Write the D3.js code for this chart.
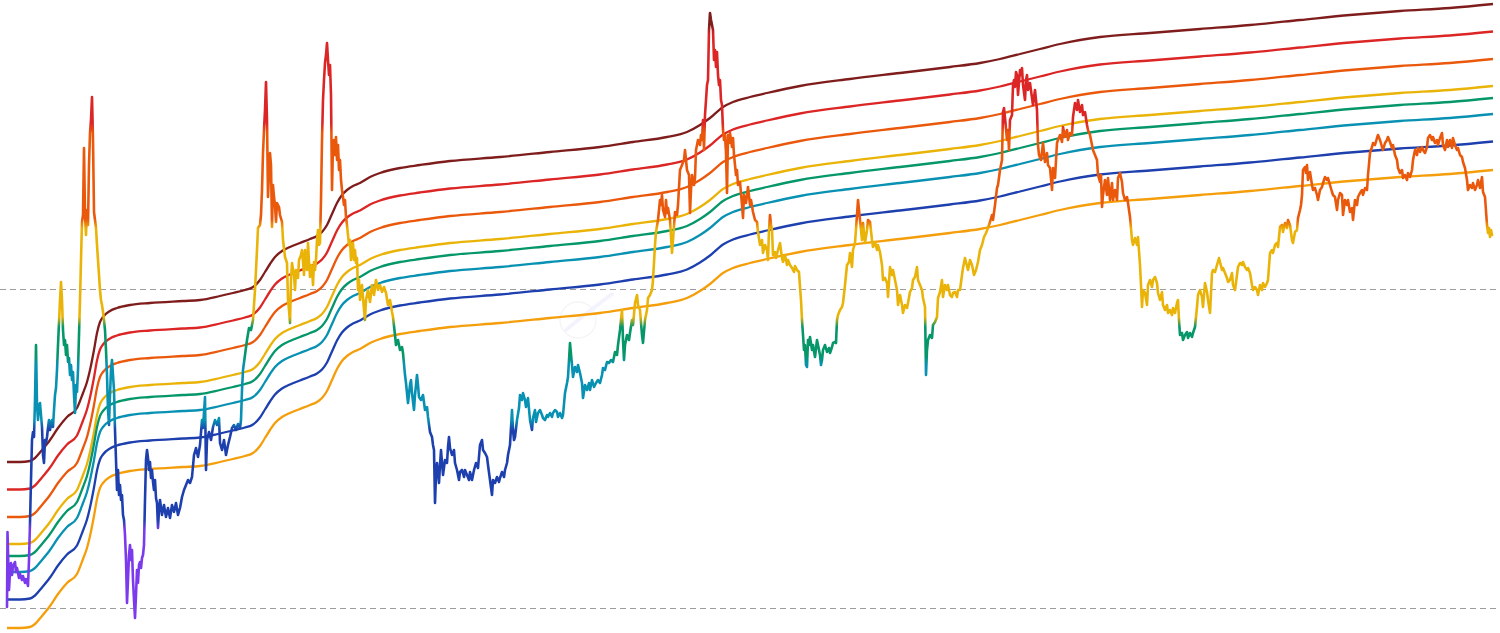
<!DOCTYPE html>
<html>
<head>
<meta charset="utf-8">
<script src="https://cdn.jsdelivr.net/npm/d3@7"></script>
<style>
  html, body { margin: 0; padding: 0; background: #ffffff; }
  svg { display: block; }
</style>
</head>
<body>
<svg id="chart" width="1500" height="633"></svg>
<script>
// ---- DATA (time index t, log-price index v) ----
// Base (top) rainbow band curve
const bandBase = [
  [0,146],[13,146],[23,147],[28,150],[35,158],[43,168],[51,180],[60,191],[70,200],[76,215],
  [80,226],[83,238],[87,258],[90,275],[93,286],[96,291],[103,297],[110,300],[123,303],[143,305],
  [176,307],[193,308],[213,312],[226,315],[238,318],[246,321],[253,328],[258,336],[263,344],[268,351],
  [275,357],[283,361],[293,365],[303,369],[310,372],[315,376],[320,383],[325,394],[330,405],[335,413],
  [340,418],[346,422],[353,425],[363,431],[373,435],[393,440],[413,443],[443,447],[493,451],[543,456],
  [593,461],[626,466],[660,471],[680,476],[693,483],[703,490],[716,501],[726,506],[743,511],[760,515],
  [793,522],[843,529],[893,535],[943,541],[973,545],[993,549],[1013,554],[1033,559],[1053,564],[1073,568],
  [1093,571],[1143,575],[1193,579],[1243,583],[1293,588],[1343,593],[1393,597],[1443,600],[1486,604]
];
// Band shifts relative to the top band (log-index units)
const bandShift = [0, -27.5, -55, -82, -94, -110, -137.5, -166];
const bandColors = ['#7f1d1d','#dc2626','#ea580c','#eab308','#059669','#0891b2','#1e40af','#f59e0b'];

// Price colour zones: thresholds in value units (top to bottom) and colours
const colorBreaks = [578, 480, 384, 286, 248, 183, 83];
const priceColors = ['#7f1d1d','#dc2626','#ea580c','#eab308','#059669','#0891b2','#1e40af','#7c3aed'];

// Dashed reference levels
const gridValues = [0, 319];

// Price series
const price = [
[0,1],[0.5,76],[2,18],[3,36],[4,45],[5,33],[6,42],[8,46],[9,36],[10,40],[12,30],[13,34],[15,28],[16,32],[18,25],[19,29],[20,26],[21,22],[22,48],[23,85],[24,128],[25,168],[26,176],
[27,171],[28,208],[29,263],[30,203],[31,188],[32,203],[33,205],[34,193],[35,181],[36,153],[37,145],[38,168],[39,165],[40,171],[41,180],[42,188],[43,178],[44,184],[45,188],[46,181],[47,198],[48,213],[49,220],[50,238],[51,263],[52,285],[53,308],[54,326],[55,308],[56,278],[57,263],
[58,268],[59,253],[60,263],[61,246],[62,250],[63,233],[64,243],[65,228],[66,236],[67,213],[68,195],[69,223],[70,216],[71,238],[72,273],[73,308],[74,348],[75,386],[76,393],
[77,460],[78,393],[79,373],[80,398],[81,383],[82,443],[83,475],[84,488],[85,511],[86,468],[87,396],[88,388],[89,380],[90,363],[91,348],[92,333],[93,318],[94,308],[95,303],[96,296],[97,288],[98,278],
[99,258],[100,233],[101,198],[102,183],[103,213],[104,238],[105,248],[106,233],[107,218],[108,178],[109,148],[110,118],[111,138],[112,113],[113,123],[114,108],[115,113],[116,93],[117,88],[118,73],[119,48],[120,5],[121,28],[122,53],[123,63],[124,48],[125,58],[126,28],[127,8],[128,-10],[129,13],[130,38],[131,25],[132,43],[133,46],[134,40],[135,50],[136,53],[137,63],[138,108],[139,148],[140,158],[141,150],[142,138],[143,146],[144,130],[145,138],[146,126],[147,118],[148,128],[149,110],[150,105],[151,80],[152,98],[153,108],
[155,93],[157,103],[159,91],[161,100],[163,90],[165,103],[167,96],[169,105],[171,93],[173,100],[175,111],[177,118],[179,123],[181,128],[183,125],[185,131],[187,153],[189,160],[191,151],[193,163],[195,188],[196,180],[198,211],[199,138],[200,168],[202,176],[204,168],[206,181],[208,188],[210,183],[212,190],[213,165],[215,158],[217,168],[219,153],[221,163],[223,171],[225,180],[227,183],[229,178],[231,184],[233,180],[234,188],[235,218],[236,238],[238,253],[240,268],[242,280],[244,278],[246,288],[248,318],[249,338],
[250,358],[251,380],[253,383],[254,393],[255,418],[256,455],[257,478],[258,498],[259,526],[260,488],[261,411],[262,435],[263,455],[264,443],[265,381],[266,423],[267,411],[268,403],[269,386],[270,405],[272,401],[273,393],[275,386],[276,368],[278,351],[280,345],[281,308],[282,298],[283,285],[284,328],[285,345],[287,333],[288,318],[289,338],[291,330],[292,348],[294,353],[295,358],[296,346],[297,333],[298,358],[299,343],[300,338],[301,365],[302,346],[303,331],[304,343],[305,340],[306,323],[307,346],[308,338],[309,348],[310,368],[311,378],[312,363],[313,365],[314,408],[315,468],[316,508],[317,528],[318,545],[319,553],[320,565],[321,548],[322,533],[323,543],[324,513],[325,418],[326,463],[327,468],[328,453],[329,471],[330,448],[331,463],[332,438],[333,448],[334,428],[335,418],[336,411],[337,403],[338,408],[339,391],[340,383],[341,373],[342,363],[343,368],[344,348],[345,358],[346,365],[347,348],[348,358],[349,345],[350,350],[351,318],[352,328],[353,308],
[355,323],[357,298],[358,288],[359,308],[361,318],[363,306],[365,323],[367,313],[369,328],[371,318],[373,323],[375,316],[377,321],[379,315],[381,303],[383,308],[385,296],[386,291],[388,273],[389,263],[391,268],[393,258],[395,261],[396,255],[398,233],[399,225],[401,205],[403,223],[404,228],[405,215],[407,198],[408,213],[410,233],[411,223],[412,211],[414,208],[416,213],[418,198],[420,201],[421,191],[423,176],[425,171],[426,163],[427,158],[428,105],[429,133],[430,145],[432,125],[433,143],[434,158],[436,133],[438,148],[440,145],[441,161],[442,171],[443,160],[445,153],[447,158],[448,145],[450,138],[452,128],[453,136],[455,138],[457,131],[458,138],[460,133],[462,128],[463,136],[465,128],[467,138],[469,145],[471,140],[473,163],[475,168],[476,158],[478,155],[480,151],[481,143],[483,128],[485,113],[486,128],[488,125],[490,131],[492,126],[493,130],[495,136],[497,131],[498,138],[500,145],[501,153],[503,163],[505,198],[506,178],[507,168],[508,171],[510,188],[512,200],[513,213],[515,208],[516,215],[518,208],[519,201],[521,210],[523,188],[525,178],[526,190],[528,198],[529,186],[531,195],[533,198],[535,193],[536,190],[538,188],[540,193],[541,191],[543,195],[545,191],[546,195],[548,198],[550,196],[551,191],[553,195],[555,190],[556,193],[558,215],[560,225],[561,231],[563,265],[565,243],[566,231],[568,241],[570,236],[571,243],[573,235],[575,225],[576,210],[578,223],[580,218],[582,225],[583,218],[585,228],[587,221],[589,225],[591,228],[593,225],[595,233],[596,240],[598,238],[600,246],[602,245],[604,248],[606,246],[608,256],[610,253],[611,263],[613,278],[615,298],[616,268],[617,248],[618,263],[620,273],[622,268],[623,275],[625,288],[626,283],[628,305],[630,313],[631,303],[633,298],[635,273],[636,265],[638,288],[640,298],[641,310],[643,313],[645,318],[646,328],[648,363],[649,376],[651,388],[653,408],[654,403],[655,413],[656,398],[658,391],[659,408],[660,395],[661,400],[663,388],[665,355],[666,368],[668,396],[670,393],[671,403],[673,438],[675,443],[677,448],[678,458],[680,438],[682,433],[683,395],[684,418],[685,433],[687,423],[688,430],[689,458],[691,468],[693,463],[694,473],[695,468],[696,488],[697,458],[698,493],[699,508],[700,523],[701,528],[702,578],[703,595],[704,588],[705,583],[706,578],[707,548],[708,558],[709,541],[710,556],[711,533],[712,523],[713,528],[714,508],[715,503],[716,478],[717,468],[718,473],[719,455],[720,415],[721,473],[722,465],[723,475],[725,461],[726,470],[727,453],[728,443],[729,433],[730,438],[731,423],[733,426],[735,403],[736,390],[737,413],[739,405],[741,421],[743,403],[744,408],[746,396],[748,388],[750,386],[751,376],[753,363],[755,368],[756,355],[758,363],[760,358],[761,348],[762,378],[763,393],[764,383],[765,378],[766,353],[768,356],[769,350],[771,358],[773,365],[775,350],[776,346],[778,353],[780,343],[781,348],[783,343],[785,340],[787,336],[788,342],[790,338],[792,336],[793,321],[794,308],[795,288],[796,273],[797,258],[798,263],[799,243],[800,241],[801,268],[802,263],[803,271],[805,258],[806,263],[808,251],[810,268],[811,263],[813,253],[814,243],[815,248],[816,258],[818,263],[820,256],[822,260],[823,255],[825,261],[826,265],[828,266],[829,265],[830,288],[831,293],[833,298],[835,301],[836,305],[838,323],[839,333],[840,343],[842,346],[843,355],[845,341],[846,358],[848,365],[850,393],[851,408],[853,388],[855,368],[856,385],[858,365],[860,378],[861,388],[863,386],[865,368],[866,361],[868,366],[870,358],[871,363],[873,356],[875,343],[876,328],[878,330],[880,325],[881,311],[883,341],[885,333],[886,338],[888,328],[890,318],[891,303],[893,313],[895,303],[896,295],[898,303],[900,300],[901,305],[903,316],[905,320],[906,328],[908,331],[910,341],[911,328],[913,323],[915,318],[916,310],[918,301],[919,233],[920,258],[921,268],[923,273],[925,270],[926,283],[928,286],[930,291],[931,310],[933,316],[935,328],[936,311],[938,323],[940,318],[941,323],[943,313],[945,311],[946,315],[948,316],[950,311],[951,318],[953,318],[955,333],[956,340],[958,350],[959,346],[961,338],[963,348],[965,343],[967,333],[969,338],[971,346],[973,358],[975,363],[977,371],[979,375],[981,380],[983,386],[985,393],[986,388],[988,403],[990,420],[991,423],[993,438],[994,443],[995,448],[996,496],[997,500],[998,490],[1000,468],[1001,478],[1002,458],[1003,488],[1005,493],[1006,523],[1007,528],[1008,521],[1009,536],[1010,533],[1011,513],[1013,538],[1014,533],[1015,540],[1016,523],[1018,508],[1019,528],[1020,533],[1021,518],[1023,525],[1025,510],[1026,503],[1028,518],[1030,498],[1031,463],[1032,453],[1034,448],[1035,456],[1036,465],[1038,446],[1040,455],[1041,443],[1043,440],[1045,418],[1046,440],[1048,430],[1050,465],[1051,468],[1053,473],[1055,466],[1056,481],[1058,471],[1060,478],[1061,468],[1063,475],[1065,473],[1066,491],[1068,505],[1070,498],[1071,508],[1073,496],[1075,503],[1076,493],[1078,496],[1080,483],[1081,478],[1083,473],[1085,463],[1086,458],[1088,453],[1090,448],[1091,433],[1093,426],[1094,433],[1095,401],[1096,413],[1098,428],[1100,413],[1101,430],[1103,408],[1105,425],[1106,408],[1108,418],[1110,408],[1111,430],[1113,435],[1115,426],[1116,415],[1118,408],[1120,411],[1121,405],[1123,391],[1125,368],[1126,363],[1128,370],[1130,363],[1131,371],[1133,343],[1134,323],[1135,301],[1136,318],[1138,315],[1140,303],[1141,323],[1143,328],[1145,321],[1146,328],[1148,331],[1150,325],[1151,315],[1153,308],[1155,316],[1156,303],[1158,298],[1160,303],[1161,295],[1163,298],[1165,293],[1166,300],[1168,295],[1170,305],[1171,308],[1172,288],[1173,273],[1175,275],[1176,268],[1178,273],[1180,276],[1181,270],[1183,275],[1185,271],[1186,275],[1188,281],[1190,301],[1191,313],[1193,318],[1195,311],[1196,301],[1198,325],[1200,316],[1201,308],[1203,295],[1205,335],[1206,338],[1208,336],[1210,343],[1212,350],[1213,346],[1215,338],[1216,340],[1218,335],[1220,330],[1221,326],[1223,328],[1225,335],[1226,323],[1228,318],[1230,333],[1231,341],[1233,345],[1235,343],[1236,346],[1238,341],[1240,338],[1241,340],[1243,335],[1245,323],[1246,318],[1248,321],[1250,318],[1251,313],[1253,323],[1255,318],[1256,325],[1258,321],[1260,325],[1261,328],[1263,355],[1265,358],[1266,355],[1268,363],[1270,365],[1271,361],[1273,381],[1275,383],[1276,376],[1278,385],[1280,380],[1281,388],[1283,383],[1285,368],[1286,365],[1288,376],[1290,378],[1291,390],[1293,398],[1294,403],[1295,413],[1296,438],[1298,441],[1299,435],[1300,443],[1301,428],[1303,436],[1305,423],[1306,418],[1308,420],[1310,413],[1311,408],[1313,418],[1315,421],[1316,425],[1318,431],[1320,428],[1321,430],[1323,423],[1325,416],[1326,413],[1328,411],[1330,398],[1331,408],[1333,415],[1335,413],[1336,393],[1338,408],[1340,403],[1341,408],[1343,396],[1345,400],[1346,388],[1348,408],[1350,403],[1351,411],[1353,415],[1355,418],[1356,413],[1358,420],[1360,418],[1361,433],[1363,455],[1365,461],[1366,465],[1368,463],[1370,470],[1371,473],[1373,468],[1375,461],[1376,458],[1378,465],[1380,468],[1381,471],[1383,466],[1385,460],[1386,463],[1388,453],[1390,448],[1391,440],[1393,435],[1395,438],[1396,430],[1398,433],[1400,428],[1401,435],[1403,431],[1405,438],[1406,448],[1408,458],[1410,453],[1411,460],[1413,456],[1415,461],[1416,458],[1418,455],[1420,461],[1421,470],[1423,473],[1425,468],[1426,471],[1428,465],[1430,468],[1431,463],[1433,470],[1435,475],[1436,463],[1438,458],[1440,468],[1441,461],[1443,468],[1445,460],[1446,470],[1448,463],[1450,458],[1451,460],[1453,453],[1455,451],[1456,446],[1458,440],[1460,428],[1461,418],[1463,423],[1465,420],[1466,425],[1468,418],[1470,423],[1471,428],[1473,420],[1475,431],[1476,416],[1478,411],[1480,383],[1481,375],[1482,380],[1483,371],[1484,378],[1485,373]
];

// ---- DRAWING ----
const W = 1500, H = 633;
const svg = d3.select('#chart');

const x = d3.scaleLinear().domain([0, 1486]).range([7, 1493]);
const y = d3.scaleLinear().domain([-25, 608]).range([H, 0]);

// Dashed reference levels
svg.append('g').selectAll('line').data(gridValues).join('line')
  .attr('x1', 0).attr('x2', W)
  .attr('y1', d => Math.round(y(d)) + 0.5).attr('y2', d => Math.round(y(d)) + 0.5)
  .attr('stroke', '#9c9c9c').attr('stroke-width', 1)
  .attr('stroke-dasharray', '6,4')
  .attr('shape-rendering', 'crispEdges');

// Faint watermark
const wm = svg.append('g').attr('opacity', 0.5);
wm.append('circle').attr('cx', 578).attr('cy', 320).attr('r', 18)
  .attr('fill', 'none').attr('stroke', '#ececf2').attr('stroke-width', 1.5);
wm.append('path').attr('d', 'M566,330 C580,318 596,306 612,294')
  .attr('fill', 'none').attr('stroke', '#e6e8fb').attr('stroke-width', 4).attr('stroke-linecap', 'round');

// Bands
const bandLine = d3.line()
  .x(d => x(d[0]))
  .y(d => y(d[1]))
  .curve(d3.curveMonotoneX);

svg.append('g').selectAll('path').data(bandShift).join('path')
  .attr('d', s => bandLine(bandBase.map(p => [p[0], p[1] + s])))
  .attr('fill', 'none')
  .attr('stroke', (s, i) => bandColors[i])
  .attr('stroke-width', 2.3)
  .attr('stroke-linejoin', 'round');

// Price gradient by level
const defs = svg.append('defs');
const grad = defs.append('linearGradient')
  .attr('id', 'priceGrad')
  .attr('gradientUnits', 'userSpaceOnUse')
  .attr('x1', 0).attr('x2', 0)
  .attr('y1', y(608)).attr('y2', y(-25));
const span = y(-25) - y(608);
const stops = [];
stops.push({o: 0, c: priceColors[0]});
colorBreaks.forEach((b, i) => {
  const yy = y(b);
  stops.push({o: (yy - 5 - y(608)) / span, c: priceColors[i]});
  stops.push({o: (yy + 5 - y(608)) / span, c: priceColors[i + 1]});
});
stops.push({o: 1, c: priceColors[priceColors.length - 1]});
grad.selectAll('stop').data(stops).join('stop')
  .attr('offset', d => Math.max(0, Math.min(1, d.o)))
  .attr('stop-color', d => d.c);

const priceLine = d3.line()
  .x(d => x(d[0]))
  .y(d => y(d[1]));

svg.append('path')
  .datum(price)
  .attr('d', priceLine)
  .attr('fill', 'none')
  .attr('stroke', 'url(#priceGrad)')
  .attr('stroke-width', 2.6)
  .attr('stroke-linejoin', 'round')
  .attr('stroke-linecap', 'round');
</script>
</body>
</html>
